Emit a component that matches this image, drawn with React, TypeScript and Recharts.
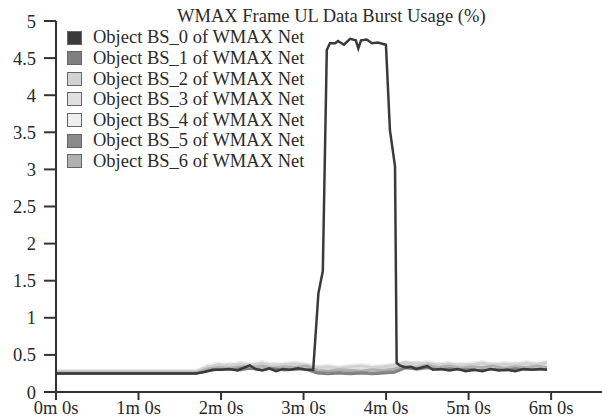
import * as React from "react";
import { LineChart, Line, XAxis, YAxis } from "recharts";

// time in seconds
const bs0Times = [
  0, 102, 108, 114, 120, 126, 132, 137, 141, 145, 150, 155, 160, 165, 170, 176,
  182, 187, 190.8, 194, 196.9, 199.2, 203, 205, 209.4, 213.8, 218, 219.8, 221.8,
  225.9, 229.8, 234, 239.9, 242.8, 246.5, 247.7, 250, 254, 258, 262, 266, 270,
  274, 280, 286, 292, 298, 304, 310, 316, 322, 328, 334, 340, 346, 352, 357,
];
const bs0Values = [
  0.25, 0.25, 0.27, 0.3, 0.3, 0.31, 0.29, 0.33, 0.36, 0.31, 0.29, 0.32, 0.28,
  0.31, 0.3, 0.32, 0.3, 0.3, 1.33, 1.63, 4.61, 4.7, 4.7, 4.73, 4.68, 4.76, 4.74,
  4.63, 4.74, 4.75, 4.7, 4.71, 4.68, 3.53, 3.04, 0.39, 0.36, 0.33, 0.34, 0.31,
  0.33, 0.35, 0.3, 0.31, 0.29, 0.31, 0.28, 0.3, 0.28, 0.31, 0.29, 0.3, 0.28,
  0.31, 0.3, 0.31, 0.3,
];

const baseTimes = [
  0, 102, 110, 118, 126, 134, 142, 150, 158, 166, 174, 182, 190, 198, 206, 214,
  222, 230, 238, 246, 254, 262, 270, 278, 286, 294, 302, 310, 318, 326, 334,
  342, 350, 357,
];
const bs1Values = [
  0.25, 0.25, 0.29, 0.31, 0.3, 0.32, 0.31, 0.3, 0.32, 0.3, 0.31, 0.3, 0.25,
  0.24, 0.25, 0.24, 0.25, 0.24, 0.25, 0.26, 0.32, 0.31, 0.33, 0.3, 0.32, 0.3,
  0.31, 0.29, 0.31, 0.3, 0.32, 0.3, 0.31, 0.3,
];
const bs2Values = [
  0.28, 0.28, 0.33, 0.37, 0.35, 0.38, 0.36, 0.39, 0.35, 0.37, 0.38, 0.36, 0.33,
  0.34, 0.32, 0.34, 0.35, 0.33, 0.34, 0.36, 0.4, 0.37, 0.39, 0.36, 0.38, 0.35,
  0.37, 0.39, 0.36, 0.38, 0.36, 0.39, 0.37, 0.4,
];
const bs3Values = [
  0.27, 0.27, 0.35, 0.34, 0.38, 0.35, 0.37, 0.34, 0.38, 0.36, 0.34, 0.37, 0.31,
  0.3, 0.32, 0.31, 0.3, 0.32, 0.31, 0.33, 0.37, 0.4, 0.36, 0.38, 0.35, 0.38,
  0.36, 0.35, 0.38, 0.35, 0.39, 0.36, 0.38, 0.37,
];
const bs4Values = [
  0.29, 0.29, 0.36, 0.39, 0.37, 0.4, 0.38, 0.41, 0.37, 0.39, 0.4, 0.38, 0.35,
  0.36, 0.34, 0.36, 0.37, 0.35, 0.36, 0.38, 0.41, 0.39, 0.41, 0.38, 0.4, 0.37,
  0.39, 0.41, 0.38, 0.4, 0.38, 0.41, 0.39, 0.41,
];
const bs5Values = [
  0.25, 0.25, 0.28, 0.3, 0.31, 0.29, 0.32, 0.3, 0.31, 0.29, 0.3, 0.31, 0.27,
  0.26, 0.27, 0.26, 0.27, 0.26, 0.27, 0.28, 0.33, 0.3, 0.32, 0.31, 0.3, 0.31,
  0.29, 0.3, 0.31, 0.29, 0.3, 0.31, 0.3, 0.31,
];
const bs6Values = [
  0.26, 0.26, 0.31, 0.33, 0.32, 0.34, 0.33, 0.35, 0.32, 0.34, 0.33, 0.35, 0.29,
  0.28, 0.3, 0.29, 0.28, 0.3, 0.29, 0.31, 0.35, 0.33, 0.36, 0.33, 0.35, 0.32,
  0.34, 0.33, 0.35, 0.32, 0.34, 0.33, 0.35, 0.33,
];

const seriesNames = [
  "Object BS_0 of WMAX Net",
  "Object BS_1 of WMAX Net",
  "Object BS_2 of WMAX Net",
  "Object BS_3 of WMAX Net",
  "Object BS_4 of WMAX Net",
  "Object BS_5 of WMAX Net",
  "Object BS_6 of WMAX Net",
];
const seriesColors = [
  "#3a3a3a",
  "#7f7f7f",
  "#d2d2d2",
  "#e0e0e0",
  "#efefef",
  "#8a8a8a",
  "#b0b0b0",
];

const xTicks = [0, 60, 120, 180, 240, 300, 360];
const yTicks = [0, 0.5, 1, 1.5, 2, 2.5, 3, 3.5, 4, 4.5, 5];

const toPoints = (times: number[], values: number[]) =>
  times.map((t, i) => ({ t, v: values[i] }));

const bs0 = toPoints(bs0Times, bs0Values);
const others = [
  bs1Values,
  bs2Values,
  bs3Values,
  bs4Values,
  bs5Values,
  bs6Values,
].map((vals) => toPoints(baseTimes, vals));

const font = "'Liberation Serif', 'Times New Roman', serif";

export default function App() {
  // draw light series first, darker ones on top
  const drawOrder = [4, 3, 2, 6, 5, 1];
  return (
    <div
      style={{
        position: "absolute",
        left: 0,
        top: 0,
        width: 602,
        height: 419,
        background: "#fff",
        fontFamily: font,
      }}
    >
      <LineChart
        width={602}
        height={419}
        margin={{ top: 21, right: 0, bottom: 0, left: 0 }}
      >
        <XAxis
          type="number"
          dataKey="t"
          domain={[0, 397]}
          ticks={xTicks}
          allowDataOverflow
          tickFormatter={(s: number) => `${Math.floor(s / 60)}m ${s % 60}s`}
          height={27}
          tickSize={8}
          tickMargin={1}
          stroke="#333"
          strokeWidth={2}
          tick={{ fill: "#2a2a2a", fontSize: 18.5, fontFamily: font }}
        />
        <YAxis
          type="number"
          domain={[0, 5]}
          ticks={yTicks}
          width={56}
          tickSize={12}
          tickMargin={8}
          stroke="#333"
          strokeWidth={2}
          tick={{ fill: "#2a2a2a", fontSize: 18.5, fontFamily: font }}
        />
        {drawOrder.map((idx) => (
          <Line
            key={idx}
            data={others[idx - 1]}
            dataKey="v"
            name={seriesNames[idx]}
            stroke={seriesColors[idx]}
            strokeWidth={idx === 1 || idx === 5 ? 2 : 3}
            dot={false}
            type="linear"
            isAnimationActive={false}
          />
        ))}
        <Line
          data={bs0}
          dataKey="v"
          name={seriesNames[0]}
          stroke={seriesColors[0]}
          strokeWidth={2.5}
          dot={false}
          type="linear"
          isAnimationActive={false}
        />
      </LineChart>

      <div
        style={{
          position: "absolute",
          left: 177,
          top: 7,
          fontSize: 18.5,
          lineHeight: "18px",
          color: "#2a2a2a",
          whiteSpace: "nowrap",
        }}
      >
        WMAX Frame UL Data Burst Usage (%)
      </div>

      <div style={{ position: "absolute", left: 67, top: 27.4 }}>
        {seriesNames.map((name, i) => (
          <div
            key={name}
            style={{
              display: "flex",
              alignItems: "center",
              height: 20.6,
              fontSize: 18.5,
              lineHeight: "20.6px",
              color: "#2a2a2a",
              whiteSpace: "nowrap",
            }}
          >
            <span
              style={{
                display: "inline-block",
                boxSizing: "border-box",
                width: 15,
                height: 14,
                background: seriesColors[i],
                border: "1px solid #666",
                marginRight: 11,
              }}
            />
            {name}
          </div>
        ))}
      </div>
    </div>
  );
}
